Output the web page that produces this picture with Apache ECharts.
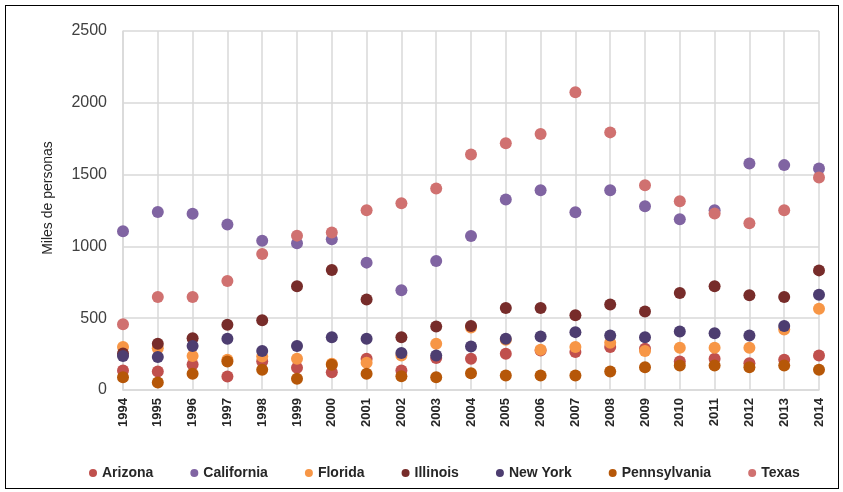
<!DOCTYPE html>
<html>
<head>
<meta charset="utf-8">
<script src="https://cdn.jsdelivr.net/npm/echarts@6/dist/echarts.min.js"></script>
<style>
html, body { margin: 0; padding: 0; background: #fff; }
#frame { position: absolute; left: 5px; top: 5px; width: 832px; height: 482px; border: 1px solid #000; }
#chart { position: absolute; left: 0; top: 0; width: 843px; height: 492px; }
</style>
</head>
<body>
<div id="frame"></div>
<div id="chart"></div>
<script>
const years = ['1994', '1995', '1996', '1997', '1998', '1999', '2000', '2001', '2002', '2003', '2004',
	'2005', '2006', '2007', '2008', '2009', '2010', '2011', '2012', '2013', '2014']

const arizona = [136, 129, 178, 94, 201, 155, 124, 217, 136, 222, 217, 252, 275, 264, 299, 287, 199, 217, 187, 210, 241]
const california = [1105, 1240, 1228, 1152, 1040, 1022, 1050, 887, 694, 898, 1073, 1326, 1391, 1238, 1391, 1280, 1189, 1252, 1577, 1566, 1543]
const florida = [299, 290, 236, 210, 234, 217, 183, 190, 240, 322, 435, 350, 280, 299, 329, 271, 294, 294, 294, 422, 566]
const illinois = [255, 322, 361, 455, 485, 722, 835, 631, 368, 443, 445, 571, 571, 520, 596, 547, 675, 722, 659, 647, 833]
const newYork = [236, 229, 306, 357, 271, 306, 368, 357, 257, 241, 303, 357, 373, 403, 380, 368, 408, 396, 380, 445, 664]
const pennsylvania = [89, 52, 113, 198, 141, 78, 176, 113, 96, 89, 117, 101, 101, 101, 129, 159, 171, 171, 159, 171, 141]
const texas = [458, 647, 647, 759, 947, 1075, 1097, 1252, 1300, 1403, 1640, 1719, 1782, 2073, 1794, 1426, 1315, 1229, 1161, 1252, 1480]

const seriesDefs = [
	['Arizona', arizona, '#c0504d'],
	['California', california, '#8064a2'],
	['Florida', florida, '#f79646'],
	['Illinois', illinois, '#772c2a'],
	['New York', newYork, '#4d3d70'],
	['Pennsylvania', pennsylvania, '#b65708'],
	['Texas', texas, '#d07170'],
]

const font = "'Liberation Sans', Arial, sans-serif"

const chart = echarts.init(document.getElementById('chart'))
chart.setOption({
	animation: false,
	textStyle: { fontFamily: font },
	grid: {
		left: 123,
		right: 24,
		top: 31,
		bottom: 102,
	},
	legend: {
		bottom: 7,
		left: 84,
		icon: 'circle',
		itemWidth: 8,
		itemHeight: 8,
		itemGap: 37,
		textStyle: {
			fontFamily: font,
			fontSize: 14,
			fontWeight: 'bold',
			color: '#262626',
		},
	},
	xAxis: {
		type: 'category',
		data: years,
		boundaryGap: false,
		axisLine: { lineStyle: { color: '#d9d9d9', width: 1.5 } },
		axisTick: { show: false },
		splitLine: { show: true, lineStyle: { color: '#d9d9d9', width: 1.5 } },
		axisLabel: {
			rotate: 90,
			margin: 8,
			fontSize: 13,
			fontWeight: 'bold',
			color: '#262626',
			fontFamily: font,
		},
	},
	yAxis: {
		type: 'value',
		min: 0,
		max: 2500,
		interval: 500,
		name: 'Miles de personas',
		nameLocation: 'middle',
		nameGap: 68,
		nameTextStyle: {
			fontSize: 14,
			color: '#262626',
			fontFamily: font,
			padding: [0, 0, 0, 25],
		},
		axisLine: { show: true, lineStyle: { color: '#d9d9d9', width: 1.5 } },
		axisTick: { show: false },
		splitLine: { lineStyle: { color: '#d9d9d9', width: 1.5 } },
		axisLabel: {
			margin: 16,
			fontSize: 16,
			color: '#404040',
			fontFamily: font,
			formatter: (v) => String(v),
		},
	},
	series: seriesDefs.map(([name, data, color]) => ({
		name,
		type: 'scatter',
		data,
		symbol: 'circle',
		symbolSize: 12,
		itemStyle: { color, opacity: 1 },
	})),
})
</script>
</body>
</html>
